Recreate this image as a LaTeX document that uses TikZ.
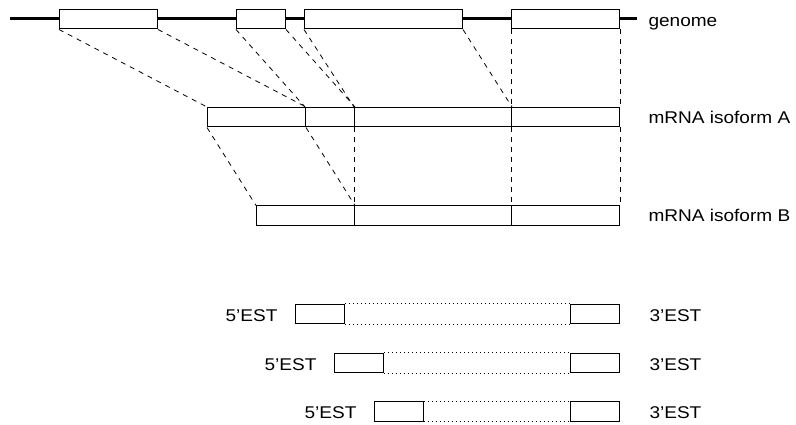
\documentclass[tikz,border=0pt]{standalone}
\usepackage{fontspec}
\setmainfont{Liberation Sans}[FakeStretch=1.12]

\begin{document}
\begin{tikzpicture}[x=1pt, y=-1pt, line width=1pt,
    exon/.style={draw, fill=white, inner sep=0pt, minimum height=19.5pt, anchor=north west},
    link/.style={line width=0.8pt, dash pattern=on 5pt off 5pt},
    gap/.style={line width=0.8pt, dash pattern=on 1pt off 3pt},
    tag/.style={inner sep=0pt, font=\fontsize{17}{20}\selectfont}]
    \useasboundingbox (0,0) rectangle (796,425);
    % genome
    \coordinate (gs) at (10,19); \coordinate (ge) at (637,19);
    \draw[line width=3pt] (gs) -- (ge);
    \node[exon, minimum width=98pt] (g1) at (59,9) {};
    \node[exon, minimum width=49pt] (g2) at (236,9) {};
    \node[exon, minimum width=158pt] (g3) at (304,9) {};
    \node[exon, minimum width=108pt] (g4) at (511,9) {};
    \node[tag, anchor=base west] (tgen) at (648,26.5) {genome};
    % isoform A
    \node[exon, minimum width=98pt] (a1) at (207,107) {};
    \node[exon, minimum width=49pt] (a2) at (305,107) {};
    \node[exon, minimum width=157pt] (a3) at (354,107) {};
    \node[exon, minimum width=108pt] (a4) at (511,107) {};
    \node[tag, anchor=base west] (ta) at (648,124) {mRNA isoform A};
    % isoform B
    \node[exon, minimum width=98pt] (b1) at (256,205.5) {};
    \node[exon, minimum width=157pt] (b2) at (354,205.5) {};
    \node[exon, minimum width=108pt] (b3) at (511,205.5) {};
    \node[tag, anchor=base west] (tb) at (648,222) {mRNA isoform B};
    % exons onto isoform A
    \draw[link] (g1.south west) -- (a1.north west);
    \draw[link] (g1.south east) -- (a1.north east);
    \draw[link] (g2.south west) -- (a2.north west);
    \draw[link] (g2.south east) -- (a2.north east);
    \draw[link] (g3.south west) -- (a3.north west);
    \draw[link] (g3.south east) -- (a3.north east);
    \draw[link] (g4.south west) -- (a4.north west);
    \draw[link] (g4.south east) -- (a4.north east);
    % isoform A onto isoform B
    \draw[link] (a1.south west) -- (b1.north west);
    \draw[link] (a1.south east) -- (b1.north east);
    \draw[link] (a3.south west) -- (b2.north west);
    \draw[link] (a4.south west) -- (b3.north west);
    \draw[link] (a4.south east) -- (b3.north east);
    % EST pairs
    \foreach \i/\x/\y in {1/295/303.5, 2/334/352.5, 3/374/401}{
        \node[exon, minimum width=49pt] (f\i) at (\x,\y) {};
        \node[exon, minimum width=49.5pt] (t\i) at (569.5,\y) {};
        \draw[gap] (f\i.north east) -- (t\i.north west);
        \draw[gap] (f\i.south east) -- (t\i.south west);
        \node[tag, anchor=base east] (l\i) at ([xshift=-17pt, yshift=3pt]f\i.south west) {5’EST};
        \node[tag, anchor=base west] (r\i) at ([xshift=29pt, yshift=3pt]t\i.south east) {3’EST};
    }
\end{tikzpicture}
\end{document}
